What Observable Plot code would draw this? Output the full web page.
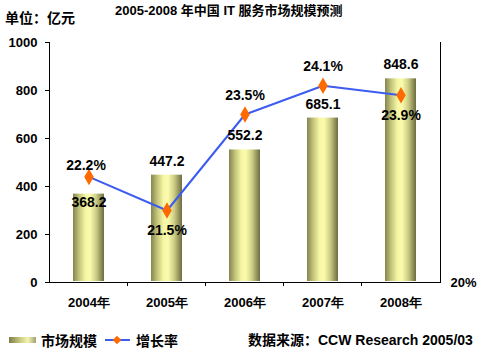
<!DOCTYPE html>
<html><head><meta charset="utf-8">
<script src="https://cdn.jsdelivr.net/npm/d3@7"></script>
<script src="https://cdn.jsdelivr.net/npm/@observablehq/plot@0.6"></script>
<style>
body{margin:0;background:#fff;}
#wrap{position:relative;width:486px;height:356px;overflow:hidden;font-family:"Liberation Sans",Arial,"Noto Sans CJK SC",sans-serif;font-weight:bold;color:#000;}
.abs{position:absolute;white-space:nowrap;line-height:16px;}
#unit{left:5px;top:9px;font-size:14px;font-family:"Noto Sans CJK SC",sans-serif;}
#title{left:115px;top:3px;font-size:13px;font-family:"Liberation Sans","Noto Sans CJK SC",sans-serif;}
#chart{position:absolute;left:0;top:0;}
.lg{font-size:14px;top:332px;}
#sw{position:absolute;left:9px;top:337px;width:27px;height:6px;background:linear-gradient(to right,#7c7c4a,#c8c880 40%,#f4f4b0 70%,#a0a078);}
#ln{position:absolute;left:105px;top:339px;width:25px;height:2px;background:#3c5cf0;}
#dm{position:absolute;left:114px;top:337px;width:6px;height:6px;background:#ff6a00;transform:rotate(45deg);}
</style></head><body>
<div id="wrap">
  <div id="chart"></div>
  <div id="unit" class="abs">单位：亿元</div>
  <div id="title" class="abs">2005-2008 年中国 IT 服务市场规模预测</div>
  <div id="sw"></div>
  <div class="abs lg" style="left:41px;font-family:'Noto Sans CJK SC',sans-serif;">市场规模</div>
  <div id="ln"></div><div id="dm"></div>
  <div class="abs lg" style="left:136px;font-family:'Noto Sans CJK SC',sans-serif;">增长率</div>
  <div class="abs lg" style="left:248px;">数据来源：CCW Research 2005/03</div>
</div>
<script>
const years = ["2004年","2005年","2006年","2007年","2008年"];
const marketSize = [368.2, 447.2, 552.2, 685.1, 848.6];
const growthRate = [22.2, 21.5, 23.5, 24.1, 23.9];
const yTicks = [0, 200, 400, 600, 800, 1000];
const rightTicks = [20];

// secondary axis 20%..25% shares the plot height with 0..1000
const rateToY = r => (r - 20) * 200;
const data = years.map((year, i) => ({year, i, size: marketSize[i], rate: growthRate[i]}));
const fmt = v => v.toFixed(1);
const bold = {fontWeight: "bold", fontSize: 14, fill: "#000"};

const plot = Plot.plot({
  width: 486, height: 356,
  marginTop: 42, marginBottom: 74, marginLeft: 49, marginRight: 45,
  style: {fontFamily: "'Liberation Sans', Arial, sans-serif", fontWeight: "bold", fontSize: "13px", background: "transparent", color: "#000"},
  x: {domain: years, paddingInner: 0.6, paddingOuter: 0.3},
  y: {domain: [0, 1000]},
  marks: [
    Plot.barY(data, {x: "year", y: "size", fill: "url(#barGrad)", insetBottom: 1}),
    Plot.ruleY([0], {stroke: "#000"}),
    Plot.line(data, {x: "year", y: d => rateToY(d.rate), stroke: "#3c5cf0", strokeWidth: 2}),
    Plot.dot(data, {x: "year", y: d => rateToY(d.rate), symbol: "diamond", r: 5, fill: "#ff6a00", stroke: "none"}),
    Plot.text(data.filter(d => d.i > 0), {x: "year", y: "size", text: d => fmt(d.size), dy: -14, ...bold}),
    Plot.text(data.filter(d => d.i === 0), {x: "year", y: "size", text: d => fmt(d.size), dy: 8, ...bold}),
    Plot.text(data.filter(d => d.i === 0), {x: "year", y: d => rateToY(d.rate), text: d => fmt(d.rate) + "%", dy: -11, dx: -3, ...bold}),
    Plot.text(data.filter(d => d.i === 2 || d.i === 3), {x: "year", y: d => rateToY(d.rate), text: d => fmt(d.rate) + "%", dy: -19, ...bold}),
    Plot.text(data.filter(d => d.i === 1 || d.i === 4), {x: "year", y: d => rateToY(d.rate), text: d => fmt(d.rate) + "%", dy: 20, ...bold}),
    Plot.axisY({ticks: yTicks, tickFormat: d3.format("d"), tickSize: 4, tickPadding: 8, fontSize: 13, fontWeight: "bold", label: null}),
    Plot.axisY({anchor: "right", ticks: rightTicks.map(rateToY), tickFormat: v => `${v / 200 + 20}%`, tickSize: 0, tickPadding: 9, fontSize: 13, fontWeight: "bold", label: null}),
    Plot.axisX({tickSize: 0, tickPadding: 15, fontSize: 13, fontWeight: "bold", label: null})
  ]
});

const svg = d3.select(plot);
const defs = svg.insert("defs", ":first-child");
const g = defs.append("linearGradient").attr("id", "barGrad").attr("x1", 0).attr("x2", 1).attr("y1", 0).attr("y2", 0);
[[0, "#84844e"], [0.2, "#c4c47c"], [0.4, "#f6f6a4"], [0.55, "#fbfbae"], [0.75, "#cccc84"], [1, "#6c6c40"]]
  .forEach(([o, c]) => g.append("stop").attr("offset", o).attr("stop-color", c));

const xs = plot.scale("x"), ys = plot.scale("y");
const [x0, x1] = xs.range, [yb, yt] = ys.range;
const fr = svg.append("g").attr("stroke", "#000").attr("fill", "none");
fr.append("line").attr("x1", x0 + 0.5).attr("x2", x0 + 0.5).attr("y1", yb).attr("y2", yt);
fr.append("line").attr("x1", x1 - 0.5).attr("x2", x1 - 0.5).attr("y1", yb).attr("y2", yt);
years.slice(1).forEach(y => {
  const bx = xs.apply(y) + xs.bandwidth / 2 - xs.step / 2;
  fr.append("line").attr("x1", bx).attr("x2", bx).attr("y1", yb).attr("y2", yb + 4);
});

document.getElementById("chart").appendChild(plot);
</script>
</body></html>
